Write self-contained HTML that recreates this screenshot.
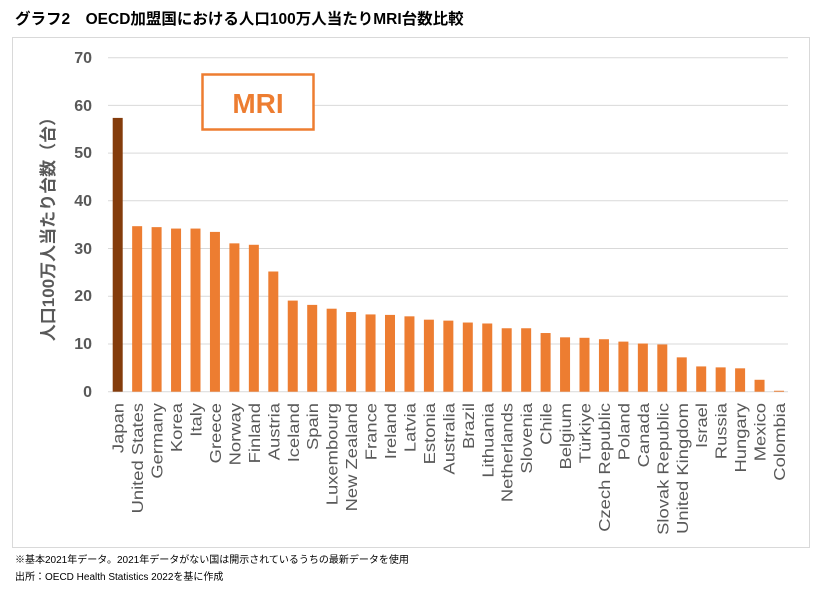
<!DOCTYPE html>
<html><head><meta charset="utf-8"><style>
body{margin:0;background:#fff;width:823px;height:592px;overflow:hidden}
svg text{font-family:"Liberation Sans","Noto Sans CJK JP",sans-serif}
</style></head><body>
<svg width="823" height="592" xmlns="http://www.w3.org/2000/svg">
<text x="15" y="24" font-size="15.5" font-weight="bold" fill="#000" font-family="'Noto Sans CJK JP',sans-serif">グラフ2　OECD加盟国における人口100万人当たりMRI台数比較</text>
<rect x="12.5" y="37.5" width="797" height="510" fill="#fff" stroke="#d9d9d9"/>
<g stroke="#d9d9d9" stroke-width="1">
<line x1="108" x2="788" y1="57.7" y2="57.7"/><line x1="108" x2="788" y1="105.4" y2="105.4"/>
<line x1="108" x2="788" y1="153.1" y2="153.1"/><line x1="108" x2="788" y1="200.8" y2="200.8"/>
<line x1="108" x2="788" y1="248.5" y2="248.5"/><line x1="108" x2="788" y1="296.2" y2="296.2"/>
<line x1="108" x2="788" y1="344" y2="344"/><line x1="108" x2="788" y1="391.7" y2="391.7"/>
</g>
<g font-size="16" font-weight="bold" fill="#595959" text-anchor="end">
<text x="92" y="63">70</text><text x="92" y="111">60</text><text x="92" y="158">50</text><text x="92" y="206">40</text><text x="92" y="254">30</text><text x="92" y="301">20</text><text x="92" y="349">10</text><text x="92" y="397">0</text>
</g>
<text transform="translate(54,225) rotate(-90)" font-size="17" font-weight="bold" fill="#595959" text-anchor="middle">人口100万人当たり台数（台）</text>
<rect x="202.5" y="74.5" width="111" height="55" fill="#fff" stroke="#ed7d31" stroke-width="2.5"/>
<text x="258" y="113" font-size="28" font-weight="bold" fill="#ed7d31" text-anchor="middle">MRI</text>
<g id="bars"></g>
<g id="labels" font-size="16" fill="#595959"></g>
<text x="15" y="563" font-size="10" fill="#000" font-family="'Noto Sans CJK JP',sans-serif">※基本2021年データ。2021年データがない国は開示されているうちの最新データを使用</text>
<text x="15" y="580" font-size="10" fill="#000" font-family="'Noto Sans CJK JP',sans-serif">出所：OECD Health Statistics 2022を基に作成</text>
</svg>
<script>
var d=[["Japan",57.4],["United States",34.7],["Germany",34.5],["Korea",34.2],["Italy",34.2],["Greece",33.5],["Norway",31.1],["Finland",30.8],["Austria",25.2],["Iceland",19.1],["Spain",18.2],["Luxembourg",17.4],["New Zealand",16.7],["France",16.2],["Ireland",16.1],["Latvia",15.8],["Estonia",15.1],["Australia",14.9],["Brazil",14.5],["Lithuania",14.3],["Netherlands",13.3],["Slovenia",13.3],["Chile",12.3],["Belgium",11.4],["Türkiye",11.3],["Czech Republic",11.0],["Poland",10.5],["Canada",10.1],["Slovak Republic",9.9],["United Kingdom",7.2],["Israel",5.3],["Russia",5.1],["Hungary",4.9],["Mexico",2.5],["Colombia",0.2]];
var b="",l="";
d.forEach(function(r,i){var cx=117.7+i*19.45,h=r[1]*4.77;
b+='<rect x="'+(cx-5)+'" y="'+(391.7-h)+'" width="10" height="'+h+'" fill="'+(i==0?'#843c0c':'#ed7d31')+'"/>';
l+='<text transform="translate('+(cx+6)+',403) rotate(-90) scale(1.15,1)" text-anchor="end">'+r[0]+'</text>';});
document.getElementById("bars").innerHTML=b;document.getElementById("labels").innerHTML=l;
</script>
</body></html>
